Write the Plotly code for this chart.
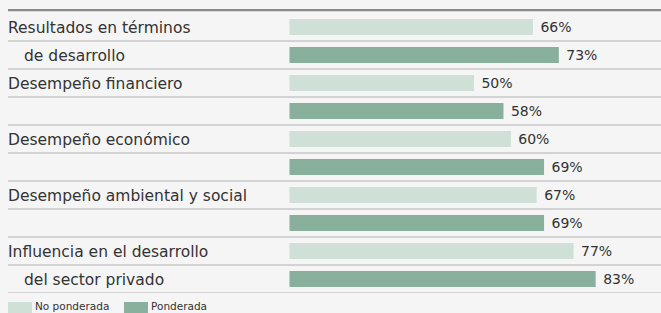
import plotly.graph_objects as go

categories = [
    ["Resultados en términos", "de desarrollo"],
    ["Desempeño financiero", ""],
    ["Desempeño económico", ""],
    ["Desempeño ambiental y social", ""],
    ["Influencia en el desarrollo", "del sector privado"],
]
no_ponderada = [66, 50, 60, 67, 77]
ponderada = [73, 58, 69, 69, 83]
series_names = ["No ponderada", "Ponderada"]

light = "#cfe0d6"
dark = "#88b09c"
txt = "#333333"
font_family = "'DejaVu Sans', sans-serif"

rows_light = [2 * i for i in range(len(categories))]
rows_dark = [2 * i + 1 for i in range(len(categories))]

fig = go.Figure()
for name, vals, rows, col in [
    (series_names[0], no_ponderada, rows_light, light),
    (series_names[1], ponderada, rows_dark, dark),
]:
    fig.add_trace(go.Bar(
        name=name, x=vals, y=rows, orientation="h",
        marker=dict(color=col, line=dict(width=0)),
        width=0.57,
        text=vals, texttemplate="\u00a0%{x}%", textposition="outside",
        textfont=dict(size=14, color=txt, family=font_family),
        constraintext="none", cliponaxis=False, showlegend=False,
        hoverinfo="skip",
    ))

shapes = []
# top thick rule
shapes.append(dict(type="line", xref="paper", yref="y", x0=0, x1=1,
                   y0=-0.607, y1=-0.607, line=dict(color="#8a8a8a", width=2.5)))
for k in range(10):
    shapes.append(dict(type="line", xref="paper", yref="y", x0=0, x1=1,
                       y0=k + 0.5, y1=k + 0.5, line=dict(color="#b0b0b0", width=1)))

annotations = []
for i, (l1, l2) in enumerate(categories):
    annotations.append(dict(xref="paper", yref="y", x=0, y=2 * i, text=l1,
                            xanchor="left", yanchor="middle", showarrow=False,
                            xshift=-2, yshift=-1,
                            font=dict(size=15.5, color=txt, family=font_family)))
    if l2:
        annotations.append(dict(xref="paper", yref="y", x=16 / 653, y=2 * i + 1, text=l2,
                                xanchor="left", yanchor="middle", showarrow=False,
                                xshift=-2, yshift=-1,
                                font=dict(size=15.5, color=txt, family=font_family)))

# legend (drawn manually below plot area)
PH = 284.0
leg_items = [(series_names[0], light, 0), (series_names[1], dark, 116)]
for name, col, off in leg_items:
    shapes.append(dict(type="rect", xref="paper", yref="paper",
                       x0=off / 653, x1=(off + 24) / 653,
                       y0=-22 / PH, y1=-9 / PH, fillcolor=col, line=dict(width=0)))
    annotations.append(dict(xref="paper", yref="paper", x=(off + 27) / 653, y=-13.3 / PH,
                            text=name, xanchor="left", yanchor="middle", showarrow=False,
                            xshift=-2,
                            font=dict(size=10.5, color=txt, family=font_family)))

fig.update_layout(
    width=661, height=313,
    margin=dict(l=8, r=0, t=9, b=20),
    paper_bgcolor="#f5f5f5", plot_bgcolor="#f5f5f5",
    barmode="overlay",
    xaxis=dict(range=[-76.3, 100.7], visible=False, fixedrange=True),
    yaxis=dict(range=[9.5, -0.643], visible=False, fixedrange=True),
    shapes=shapes, annotations=annotations,
    showlegend=False,
)

fig.write_html("out.html", config={"displayModeBar": False},
               post_script="document.body.style.margin='0';document.body.style.overflow='hidden';")
